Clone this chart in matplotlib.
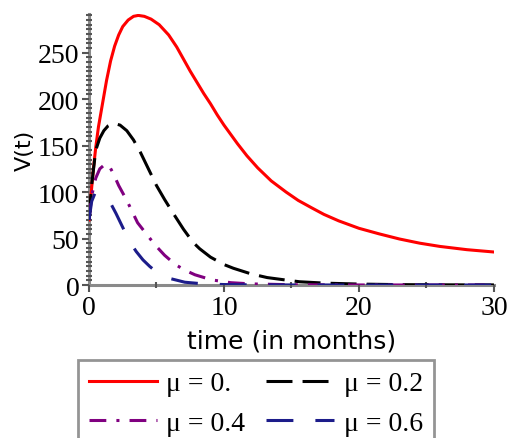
import matplotlib.pyplot as plt
from matplotlib.ticker import MultipleLocator

# time points (months) and V(t) for each mu value
t_red = [0, 0.1, 0.2, 0.35, 0.5, 0.7, 1.0, 1.3, 1.6, 1.9, 2.2, 2.5, 2.9, 3.3, 3.65, 4.1, 4.6,
         5.2, 5.9, 6.5, 7.0, 7.5, 8.0, 8.5, 9.0, 9.5, 10, 10.5, 11, 11.7, 12.5, 13.5, 14.6,
         15.5, 16.5, 17.4, 18.5, 20, 21.5, 23, 24.5, 26, 28, 30]
v_red = [70, 88, 105, 128, 148, 170, 195, 220, 241, 257, 269, 278, 285, 289, 290, 289, 286,
         280, 269, 256, 243, 230, 218, 206, 195, 183, 172, 162, 152, 139, 126, 112, 100,
         91, 83, 76, 69, 61, 55, 49.5, 45, 41.5, 38, 35.5]

t_black = [0, 0.2, 0.5, 0.8, 1.1, 1.4, 1.8, 2.3, 2.8, 3.3, 3.8, 4.4, 5.0, 5.6, 6.2, 7.0, 7.7,
           8.2, 9.0, 10.0, 10.7, 12.0, 13.2, 14.5, 15.6, 17.5, 20, 23, 26, 30]
v_black = [70, 108, 145, 158, 166, 171, 174, 172, 166, 156, 143, 125, 107, 92, 78, 60, 46,
           39, 30, 22, 18, 12, 8, 5.5, 3.5, 2, 1, 0.4, 0.2, 0.1]

t_purple = [0, 0.2, 0.5, 0.8, 1.2, 1.5, 1.8, 2.2, 2.8, 3.2, 3.6, 4.3, 4.9, 5.6, 6.4, 7.1,
            7.85, 9.1, 10.5, 12, 15, 20, 30]
v_purple = [70, 96, 115, 125, 130, 128, 120, 107, 91, 79, 67, 54, 43, 32, 22, 16,
            11, 5.5, 2.5, 1.2, 0.3, 0.05, 0]

t_blue = [0, 0.2, 0.45, 0.8, 1.2, 1.6, 2.0, 2.5, 3.0, 3.5, 4.0, 4.5, 5.0, 6.0, 7.1, 8.5,
          10, 12, 15, 20, 30]
v_blue = [70, 90, 99, 97, 93, 88, 77, 62, 47, 36, 27, 20, 14, 7, 3, 1.2,
          0.5, 0.2, 0.05, 0, 0]

labels = ["μ = 0.", "μ = 0.2", "μ = 0.4", "μ = 0.6"]

fig = plt.figure(figsize=(5.1, 4.39), dpi=100)
ax = fig.add_axes([0.1745, 0.3485, 0.794, 0.6173])

lw = 2.2
l_red, = ax.plot(t_red, v_red, color="#ff0000", lw=lw, label=labels[0])
l_black, = ax.plot(t_black, v_black, color="black", lw=lw, ls=(0, (8.5, 3.3)), label=labels[1])
l_purple, = ax.plot(t_purple, v_purple, color="#800080", lw=lw, ls=(0, (5.5, 3.3, 1, 3.3)),
                    label=labels[2])
l_blue, = ax.plot(t_blue, v_blue, color="#1c1c8a", lw=lw, ls=(0, (8.8, 7.2)), label=labels[3])

ax.set_xlim(0, 30)
ax.set_ylim(0, 291.5)

# axes drawn like maple: only left and bottom lines in grey
for s in ["top", "right"]:
    ax.spines[s].set_visible(False)
for s in ["left", "bottom"]:
    ax.spines[s].set_color("#8a8a8a")
    ax.spines[s].set_linewidth(2.2)
    ax.spines[s].set_zorder(0)

ax.xaxis.set_major_locator(MultipleLocator(10))
ax.xaxis.set_minor_locator(MultipleLocator(5))
ax.yaxis.set_major_locator(MultipleLocator(50))
ax.yaxis.set_minor_locator(MultipleLocator(5))
ax.tick_params(which="major", direction="out", length=5, width=1.5, color="#555555",
               labelsize=20, pad=2)
ax.tick_params(which="minor", direction="inout", length=4, width=1.5, color="#555555")
for lab in ax.get_xticklabels() + ax.get_yticklabels():
    lab.set_family("Liberation Serif")

ax.set_xlabel("time (in months)", fontsize=18, family="DejaVu Sans", labelpad=6)
ax.set_ylabel("V(t)", fontsize=16, family="DejaVu Sans", labelpad=2)

# legend filled row by row: 0. and 0.2 on top, 0.4 and 0.6 below
handles = [l_red, l_purple, l_black, l_blue]
leg = fig.legend(handles=handles, labels=[h.get_label() for h in handles],
                 loc="upper left", bbox_to_anchor=(0.152, 0.178), ncol=2,
                 prop={"family": "Liberation Serif", "size": 20},
                 frameon=True, fancybox=False, handlelength=2.45, handletextpad=0.35,
                 columnspacing=0.75, labelspacing=0.5, borderpad=0.4, borderaxespad=0)
leg.get_frame().set_edgecolor("#7a7a7a")
leg.get_frame().set_linewidth(2.0)

fig.savefig("out.png", dpi=100)
